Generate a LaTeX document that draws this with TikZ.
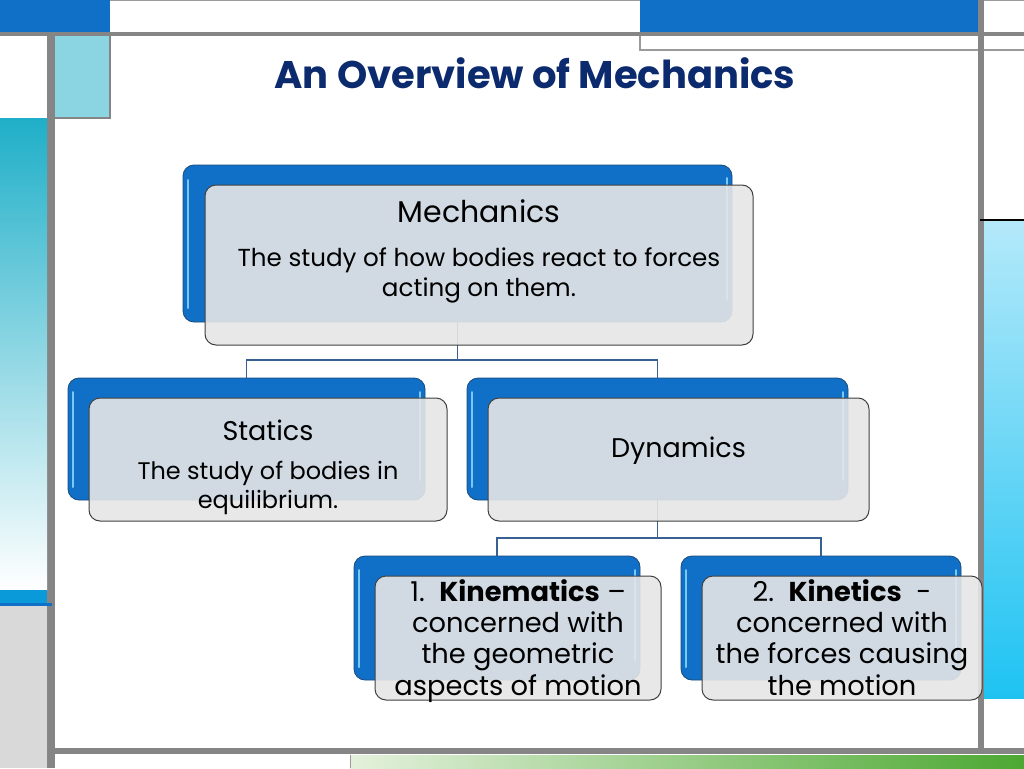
\documentclass[tikz,border=0pt]{standalone}
\usepackage{fontspec}
\setmainfont{Poppins}
\definecolor{framecol}{HTML}{1070C8}
\definecolor{framegrey}{HTML}{858585}
\definecolor{thingrey}{HTML}{9A9A9A}
\definecolor{lightsq}{HTML}{8BD4E2}
\definecolor{tealtop}{HTML}{1FAFC8}
\definecolor{stripblue}{HTML}{0A9ADA}
\definecolor{lgrey}{HTML}{D9D9D9}
\definecolor{rtop}{HTML}{B4E9FA}
\definecolor{rbot}{HTML}{1EC3F2}
\definecolor{gleft}{HTML}{E4F1DC}
\definecolor{gright}{HTML}{4CA832}
\definecolor{bluefill}{HTML}{1070C8}
\definecolor{blueline}{HTML}{1C4A78}
\definecolor{bluehi}{HTML}{7CC8F4}
\definecolor{greyfill}{HTML}{E6E6E6}
\definecolor{greyline}{HTML}{404040}
\definecolor{connc}{HTML}{386090}
\definecolor{titlecol}{HTML}{0C2A6E}
\tikzset{
  bluebox/.style={draw=blueline, line width=0.8pt, fill=bluefill, rounded corners=11pt, inner sep=0pt},
  greybox/.style={draw=greyline, line width=1pt, fill=greyfill, fill opacity=0.9, rounded corners=11pt, inner sep=0pt},
  conn/.style={draw=connc, line width=1.3pt},
  hilite/.style={draw=bluehi, line width=2pt, line cap=round},
  txtbig/.style={align=center, text=black, inner sep=0pt, font=\fontsize{27}{32}\selectfont},
  txtbody/.style={align=center, text=black, inner sep=0pt, font=\fontsize{24}{28.5}\selectfont},
  txtkin/.style={align=center, text=black, inner sep=0pt, font=\fontsize{27.3}{31.3}\selectfont},
}
\begin{document}
\begin{tikzpicture}[x=1pt,y=-1pt]
\useasboundingbox (0,0) rectangle (1024,768);
% ---------- frame ----------
\fill[white] (0,0) rectangle (1024,768);
\fill[framecol] (0,0) rectangle (110,32);
\draw[thingrey, line width=0.8pt] (110,0.5) -- (640,0.5);
\fill[framecol] (640,0) rectangle (978,32);
\draw[thingrey, line width=0.8pt] (984,0.5) -- (1024,0.5);
\draw[thingrey, line width=1.2pt] (640,32) -- (640,50) -- (978,50);
\draw[thingrey, line width=1.2pt] (984,50) -- (1024,50);
\fill[framegrey] (0,32) rectangle (1024,36);
\fill[framegrey] (47,32) rectangle (55,768);
\fill[lightsq] (55,36) rectangle (110,118);
\draw[framegrey, line width=2pt] (110,36) -- (110,118) -- (55,118);
\shade[top color=tealtop, bottom color=white] (0,118) rectangle (47,590);
\fill[stripblue] (0,590) rectangle (47,603);
\fill[framecol] (0,603) rectangle (52,606);
\fill[lgrey] (0,606) rectangle (47,768);
\fill[framegrey] (978,0) rectangle (984,752);
\shade[top color=rtop, bottom color=rbot] (984,221) rectangle (1024,698);
\draw[black, line width=2pt] (980,220) -- (1024,220);
\fill[framegrey] (55,748) rectangle (1024,754);
\shade[left color=gleft, right color=gright] (350,755) rectangle (1024,768);
\draw[thingrey, line width=0.8pt] (350,755) -- (350,768);
% ---------- title ----------
\node[font=\bfseries\fontsize{38.5}{40}\selectfont, text=titlecol, inner sep=0pt, anchor=base] (title) at (535,88) {An Overview of Mechanics};
% ---------- blue back boxes ----------
\node[bluebox, minimum width=549pt, minimum height=157pt] (mechB) at (457.5,243.5) {};
\node[bluebox, minimum width=357pt, minimum height=122pt] (statB) at (246.5,439) {};
\node[bluebox, minimum width=381pt, minimum height=122pt] (dynB) at (657.5,439) {};
\node[bluebox, minimum width=286pt, minimum height=124pt] (kinmB) at (497,618) {};
\node[bluebox, minimum width=280pt, minimum height=124pt] (kintB) at (821,618) {};
% highlights
\draw[hilite] (188,180) -- (188,308);
\draw[hilite] (727,178) -- (727,300);
\draw[hilite] (73,392) -- (73,487);
\draw[hilite] (420,392) -- (420,480);
\draw[hilite] (472,392) -- (472,487);
\draw[hilite] (843,392) -- (843,480);
\draw[hilite] (359,570) -- (359,667);
\draw[hilite] (635,570) -- (635,660);
\draw[hilite] (686,570) -- (686,667);
\draw[hilite] (956,570) -- (956,660);
% ---------- connectors ----------
\coordinate (j1) at (457.5,360);
\coordinate (j2) at (657.5,538);
\draw[conn] (mechB.south) -- (j1);
\draw[conn] (j1) -| (statB.north);
\draw[conn] (j1) -| (dynB.north);
\draw[conn] (dynB.south) -- (j2);
\draw[conn] (j2) -| (kinmB.north);
\draw[conn] (j2) -| (kintB.north);
% ---------- grey front boxes ----------
\node[greybox, minimum width=548pt, minimum height=160pt] (mechG) at (479,265) {};
\node[greybox, minimum width=358pt, minimum height=123pt] (statG) at (268,459.5) {};
\node[greybox, minimum width=381pt, minimum height=123pt] (dynG) at (678.5,459.5) {};
\node[greybox, minimum width=286pt, minimum height=124pt] (kinmG) at (518,638) {};
\node[greybox, minimum width=280pt, minimum height=124pt] (kintG) at (842,638) {};
% ---------- texts ----------
\node[txtbig, font=\fontsize{30}{34}\selectfont, anchor=base] (mechT) at (479,222) {Mechanics};
\node[txtbody, font=\fontsize{24.6}{29.5}\selectfont, anchor=base] (mechD) at (479,296) {The study of how bodies react to forces\\acting on them.};
\node[txtbig, anchor=base] (statT) at (268,440) {Statics};
\node[txtbody, anchor=base] (statD) at (268,508) {The study of bodies in\\equilibrium.};
\node[txtbig, anchor=base] (dynT) at (678.5,457) {Dynamics};
\node[txtkin, anchor=base] (kinmT) at (518,695) {1.\ \ \textbf{Kinematics} --\\concerned with\\the geometric\\aspects of motion};
\node[txtkin, anchor=base] (kintT) at (842,695) {2.\ \ \textbf{Kinetics}\ \ -\\concerned with\\the forces causing\\the motion};
\end{tikzpicture}
\end{document}
